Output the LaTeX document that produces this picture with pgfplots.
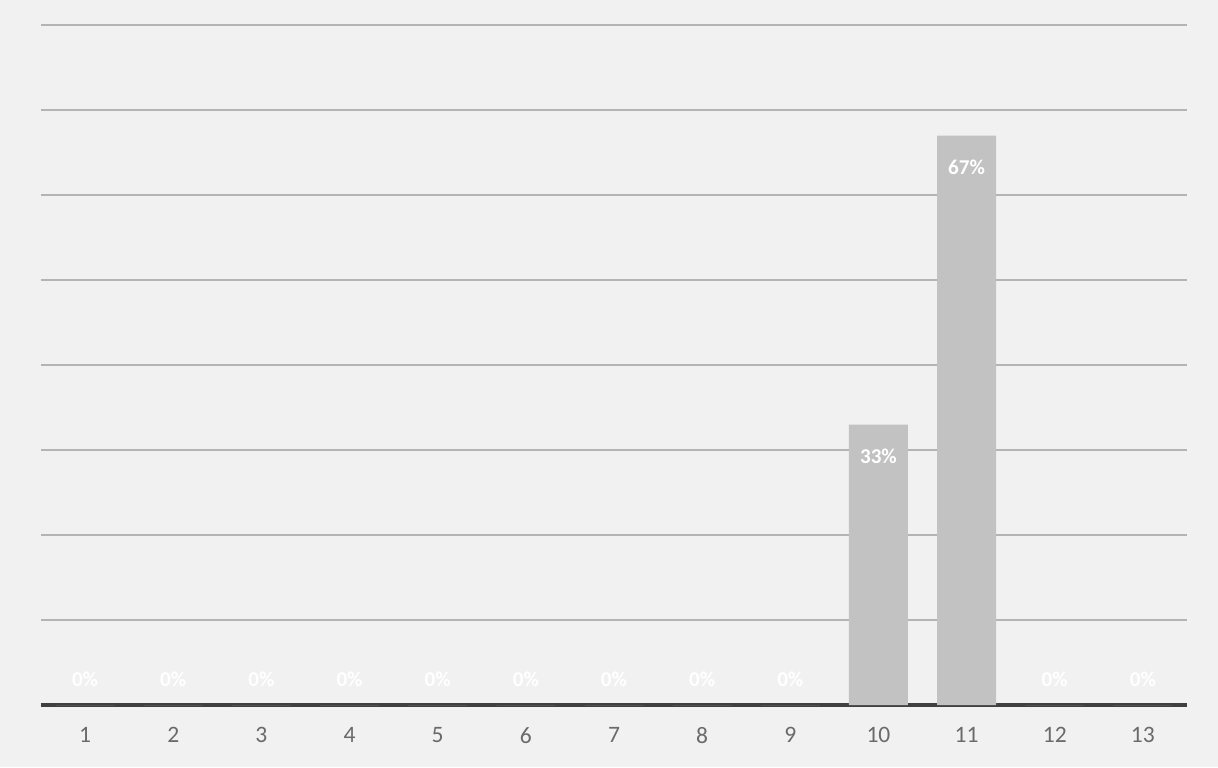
\documentclass[border=0pt]{standalone}
\usepackage{pgfplots}
\pgfplotsset{compat=1.18}
\usepackage{fontspec}
\setmainfont{Carlito}
\definecolor{bg}{HTML}{F1F1F1}
\definecolor{barc}{HTML}{C2C2C2}
\definecolor{gridc}{HTML}{B4B4B4}
\definecolor{tickc}{HTML}{6A6A6A}
\begin{document}
\begin{tikzpicture}
\fill[bg] (-4.1mm,-6.2mm) rectangle (117.7mm,70.5mm);
\useasboundingbox (-4.1mm,-6.2mm) rectangle (117.7mm,70.5mm);
\begin{axis}[
  at={(0,0)}, anchor=south west,
  scale only axis,
  width=114.6mm, height=68mm,
  ybar, bar width=5.9mm,
  xmin=0.5, xmax=13.5,
  ymin=0, ymax=80,
  xtick={1,...,13},
  ytick={10,20,...,80},
  yticklabels={},
  ymajorgrids,
  grid style={gridc, line width=0.4pt},
  axis x line*=bottom,
  axis y line*=left,
  y axis line style={draw=none},
  x axis line style={draw=black!75, line width=1.1pt},
  major tick length=0pt,
  tick style={draw=none},
  /pgf/number format/assume math mode=true,
  xticklabel style={font=\fontsize{6.7}{8}\selectfont, text=tickc, yshift=-1.0mm},
  every node near coord/.append style={font=\fontsize{6}{7}\selectfont\bfseries, text=white},
  clip=false,
]
\addplot[fill=barc, draw=none, bar shift=0pt,
  nodes near coords={\pgfmathprintnumber[fixed,precision=0]{\pgfplotspointmeta}\%},
  every node near coord/.append style={anchor=north, yshift=-1.2mm}]
  coordinates {(10,33) (11,67)};
\addplot[fill=barc, draw=none, bar shift=0pt,
  nodes near coords={\pgfmathprintnumber[fixed,precision=0]{\pgfplotspointmeta}\%},
  every node near coord/.append style={anchor=south, yshift=0.6mm}]
  coordinates {(1,0) (2,0) (3,0) (4,0) (5,0) (6,0) (7,0) (8,0) (9,0) (12,0) (13,0)};
\end{axis}
\end{tikzpicture}
\end{document}
